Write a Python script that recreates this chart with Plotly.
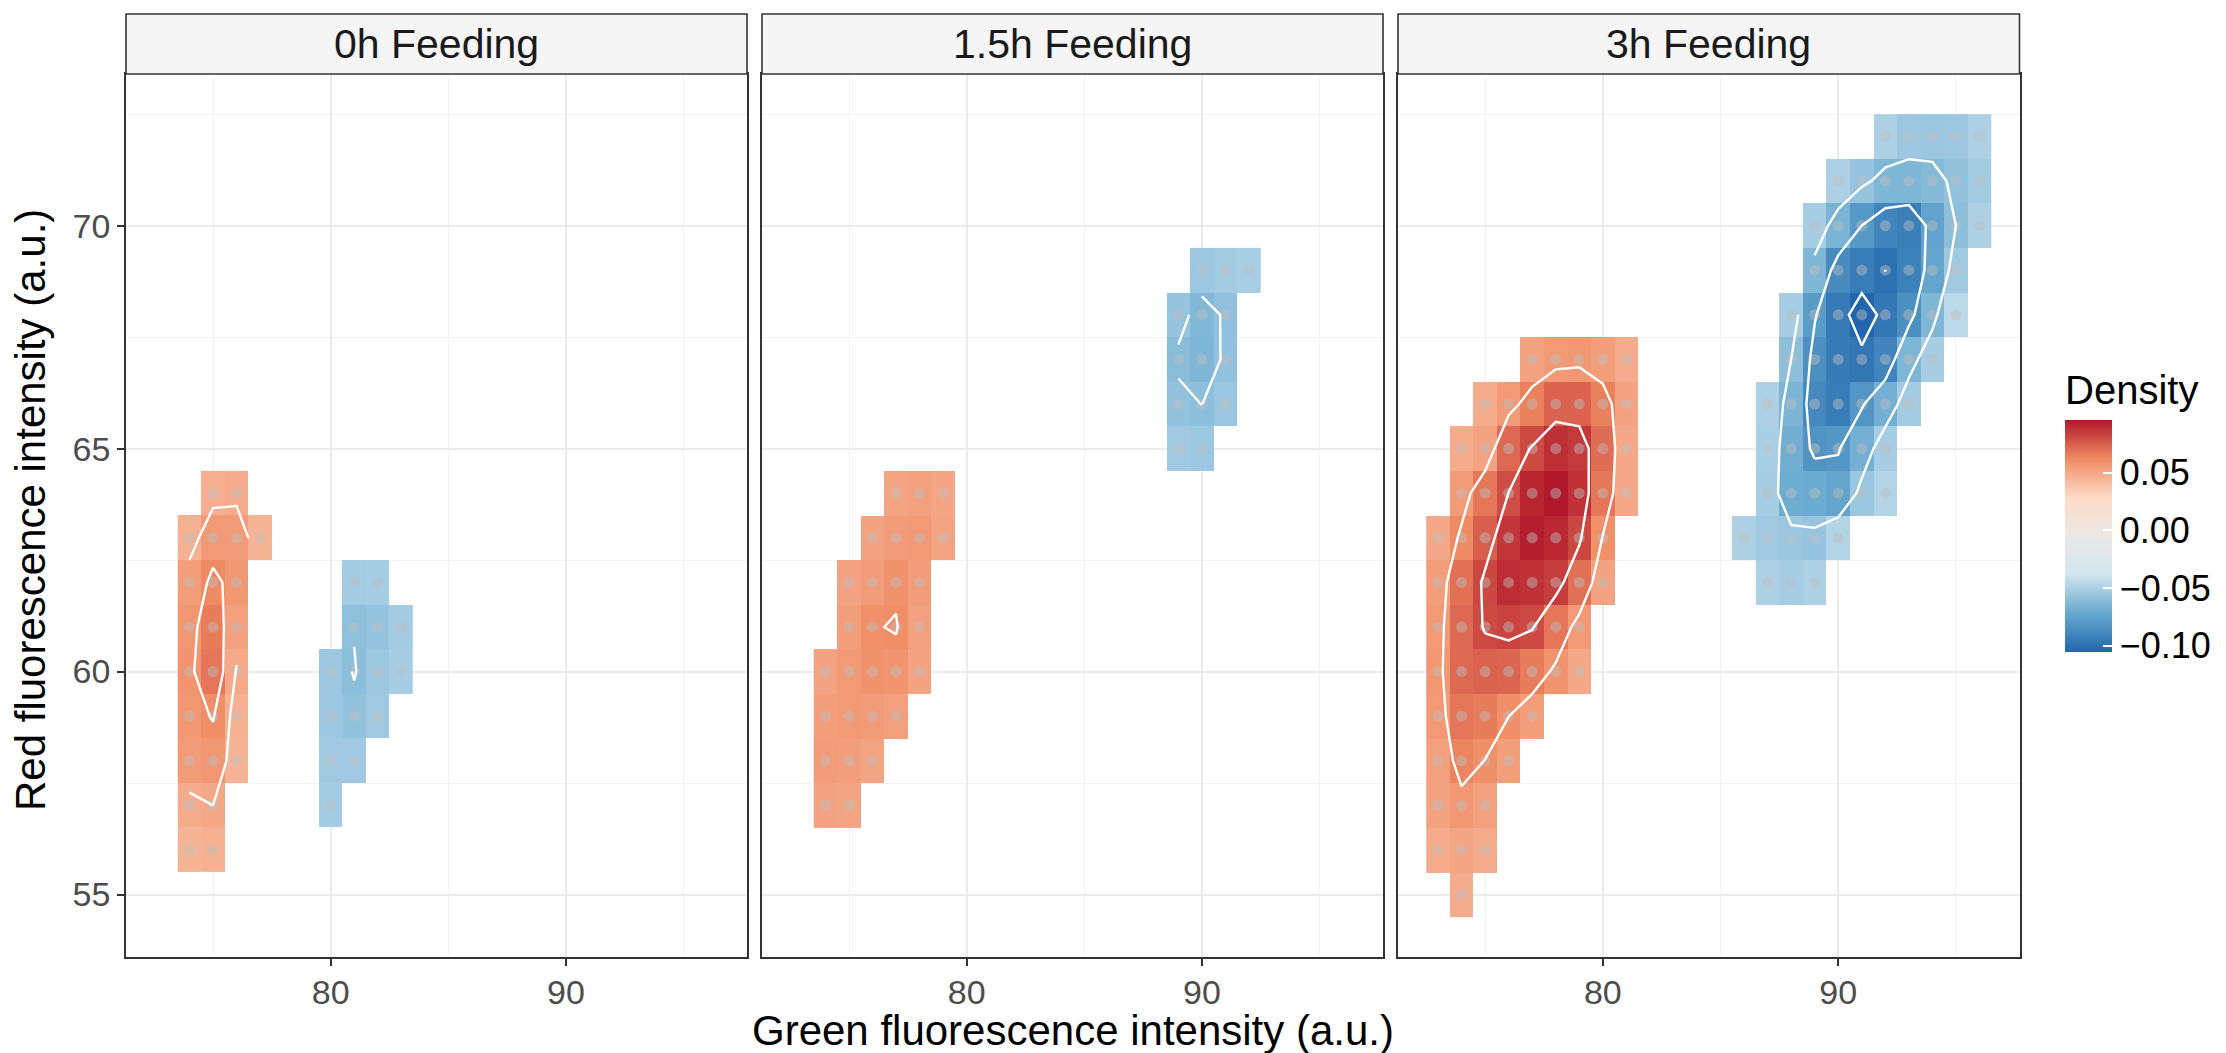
import math
from collections import defaultdict
import plotly.graph_objects as go

# ---------------- data ----------------
panel_titles = ["0h Feeding", "1.5h Feeding", "3h Feeding"]
x_title = "Green fluorescence intensity (a.u.)"
y_title = "Red fluorescence intensity (a.u.)"
legend_title = "Density"
x_ticks = [80, 90]
y_ticks = [55, 60, 65, 70]
legend_ticks = [-0.10, -0.05, 0.00, 0.05]
legend_labels = ["\u22120.10", "\u22120.05", "0.00", "0.05"]
density_limits = [-0.1056, 0.0958]
contour_binwidth = [0.01, 0.01, 0.02]

# each entry: (red intensity y, first green intensity x, densities for x, x+1, ...)
cells_0h = [
    (64, 75, [0.047, 0.048]),
    (63, 74, [0.046, 0.056, 0.055, 0.045]),
    (62, 74, [0.054, 0.062, 0.057]),
    (61, 74, [0.057, 0.066, 0.053]),
    (60, 74, [0.058, 0.068, 0.0495]),
    (59, 74, [0.057, 0.0605, 0.046]),
    (58, 74, [0.055, 0.0567, 0.045]),
    (57, 74, [0.048, 0.050]),
    (56, 74, [0.045, 0.046]),
    (62, 81, [-0.053, -0.052]),
    (61, 81, [-0.0596, -0.057, -0.053]),
    (60, 80, [-0.055, -0.0605, -0.055, -0.052]),
    (59, 80, [-0.055, -0.058, -0.054]),
    (58, 80, [-0.054, -0.054]),
    (57, 80, [-0.053]),
]
cells_1_5h = [
    (64, 77, [0.0515, 0.053, 0.051]),
    (63, 76, [0.052, 0.055, 0.056, 0.0515]),
    (62, 75, [0.052, 0.055, 0.0588, 0.055]),
    (61, 75, [0.054, 0.0595, 0.0605, 0.053]),
    (60, 74, [0.052, 0.056, 0.059, 0.0575, 0.052]),
    (59, 74, [0.054, 0.056, 0.055, 0.053]),
    (58, 74, [0.055, 0.054, 0.0515]),
    (57, 74, [0.052, 0.0515]),
    (69, 90, [-0.055, -0.0535, -0.0515]),
    (68, 89, [-0.057, -0.0635, -0.059]),
    (67, 89, [-0.0615, -0.0645, -0.0588]),
    (66, 89, [-0.058, -0.0601, -0.056]),
    (65, 89, [-0.054, -0.0555]),
]
cells_3h = [
    (67, 77, [0.052, 0.056, 0.057, 0.054, 0.048]),
    (66, 75, [0.048, 0.056, 0.065, 0.074, 0.074, 0.065, 0.052]),
    (65, 74, [0.048, 0.052, 0.072, 0.081, 0.089, 0.086, 0.071, 0.050]),
    (64, 74, [0.055, 0.068, 0.0802, 0.092, 0.0958, 0.088, 0.068, 0.050]),
    (63, 73, [0.050, 0.062, 0.075, 0.087, 0.094, 0.091, 0.082, 0.0595]),
    (62, 73, [0.054, 0.070, 0.082, 0.090, 0.088, 0.085, 0.070, 0.052]),
    (61, 73, [0.056, 0.072, 0.081, 0.083, 0.081, 0.068, 0.056]),
    (60, 73, [0.057, 0.072, 0.074, 0.073, 0.066, 0.058, 0.050]),
    (59, 73, [0.056, 0.068, 0.066, 0.0601, 0.054]),
    (58, 73, [0.053, 0.064, 0.0598, 0.054]),
    (57, 73, [0.052, 0.057, 0.053]),
    (56, 73, [0.048, 0.051, 0.049]),
    (55, 74, [0.048]),
    (72, 92, [-0.050, -0.055, -0.056, -0.055, -0.050]),
    (71, 90, [-0.050, -0.057, -0.0643, -0.0648, -0.063, -0.058, -0.053]),
    (70, 89, [-0.052, -0.066, -0.080, -0.090, -0.093, -0.075, -0.060, -0.050]),
    (69, 89, [-0.064, -0.087, -0.094, -0.1001, -0.092, -0.074, -0.054]),
    (68, 88, [-0.052, -0.0787, -0.0954, -0.1056, -0.097, -0.085, -0.064, -0.045]),
    (67, 88, [-0.060, -0.085, -0.095, -0.0975, -0.090, -0.065, -0.052]),
    (66, 87, [-0.050, -0.0652, -0.088, -0.094, -0.0815, -0.068, -0.053]),
    (65, 87, [-0.051, -0.069, -0.0828, -0.081, -0.068, -0.052]),
    (64, 87, [-0.052, -0.070, -0.0705, -0.074, -0.056, -0.048]),
    (63, 86, [-0.050, -0.054, -0.056, -0.057, -0.048]),
    (62, 87, [-0.050, -0.052, -0.050]),
]
# grid cells that carry the contour lines but have no tile drawn
contour_only_0h = [(64, 74, [0.042]), (64, 77, [0.042]), (57, 76, [0.043])]
contour_only_1_5h = []
contour_only_3h = [
    (67, 76, [0.045]), (64, 73, [0.045]), (63, 81, [0.045]), (61, 80, [0.045]),
    (59, 78, [0.045]), (58, 77, [0.045]),
    (71, 89, [-0.045]), (72, 91, [-0.045]), (67, 95, [-0.045]), (66, 94, [-0.045]),
    (65, 93, [-0.045]), (63, 91, [-0.045]), (67, 87, [-0.045]),
]

panel_cells = [cells_0h, cells_1_5h, cells_3h]
panel_extra = [contour_only_0h, contour_only_1_5h, contour_only_3h]

# ---------------- styling / geometry ----------------
W, H = 2226, 1053
FONT = "Liberation Sans, Arial, Helvetica, sans-serif"
panel_px = [(126, 747), (762, 1383), (1398, 2019.5)]
plot_top, plot_bottom = 74, 957
strip_top = 14
x_range = [71.3, 97.7]
y_range = [53.6, 73.4]
palette = ["#2166ac", "#67a9cf", "#d1e5f0", "#ebe9e7", "#fddbc7", "#ef8a62", "#b2182b"]
colorscale = [[i / (len(palette) - 1), c] for i, c in enumerate(palette)]


def to_points(entries):
    pts = {}
    for y, x0, vals in entries:
        for k, v in enumerate(vals):
            pts[(x0 + k, y)] = v
    return pts


def marching_squares(xs, ys, Z, level):
    nx, ny = len(xs), len(ys)
    cache = {}

    def edge_point(key):
        if key in cache:
            return cache[key]
        kind, i, j = key
        if kind == "h":
            v1, v2 = Z[j][i], Z[j][i + 1]
            t = 0.0 if v2 == v1 else (level - v1) / (v2 - v1)
            p = (xs[i] + t * (xs[i + 1] - xs[i]), ys[j])
        else:
            v1, v2 = Z[j][i], Z[j + 1][i]
            t = 0.0 if v2 == v1 else (level - v1) / (v2 - v1)
            p = (xs[i], ys[j] + t * (ys[j + 1] - ys[j]))
        cache[key] = p
        return p

    segs = []
    for j in range(ny - 1):
        for i in range(nx - 1):
            a, b, c, d = Z[j][i], Z[j][i + 1], Z[j + 1][i + 1], Z[j + 1][i]
            if any(math.isnan(v) for v in (a, b, c, d)):
                continue
            A, B, C, D = a >= level, b >= level, c >= level, d >= level
            bottom, top = ("h", i, j), ("h", i, j + 1)
            left, right = ("v", i, j), ("v", i + 1, j)
            crossed = []
            if A != B:
                crossed.append(bottom)
            if B != C:
                crossed.append(right)
            if C != D:
                crossed.append(top)
            if D != A:
                crossed.append(left)
            if len(crossed) == 2:
                segs.append((crossed[0], crossed[1]))
            elif len(crossed) == 4:
                m = (a + b + c + d) / 4 >= level
                if m == A:
                    segs += [(bottom, right), (top, left)]
                else:
                    segs += [(left, bottom), (right, top)]

    adj = defaultdict(list)
    for k, (e1, e2) in enumerate(segs):
        adj[e1].append(k)
        adj[e2].append(k)
    used = [False] * len(segs)
    paths = []
    for k in range(len(segs)):
        if used[k]:
            continue
        used[k] = True
        path = [segs[k][0], segs[k][1]]
        for forward in (True, False):
            while True:
                end = path[-1] if forward else path[0]
                nxt = [s for s in adj[end] if not used[s]]
                if not nxt:
                    break
                s = nxt[0]
                used[s] = True
                f1, f2 = segs[s]
                other = f2 if f1 == end else f1
                if forward:
                    path.append(other)
                else:
                    path.insert(0, other)
        paths.append([edge_point(e) for e in path])
    return paths


fig = go.Figure()

for p in range(3):
    axn = "" if p == 0 else str(p + 1)
    tiles = to_points(panel_cells[p])
    allpts = dict(tiles)
    allpts.update(to_points(panel_extra[p]))
    xs = list(range(min(q[0] for q in allpts), max(q[0] for q in allpts) + 1))
    ys = list(range(min(q[1] for q in allpts), max(q[1] for q in allpts) + 1))
    z_tiles = [[tiles.get((x, y)) for x in xs] for y in ys]
    z_all = [[allpts.get((x, y), math.nan) for x in xs] for y in ys]

    fig.add_trace(go.Heatmap(
        x=xs, y=ys, z=z_tiles, coloraxis="coloraxis", hoverinfo="skip",
        xaxis="x" + axn, yaxis="y" + axn,
    ))

    dx = [q[0] for q in tiles]
    dy = [q[1] for q in tiles]
    fig.add_trace(go.Scatter(
        x=dx, y=dy, mode="markers", hoverinfo="skip", showlegend=False,
        marker=dict(size=11, color="rgba(190,190,190,0.45)", line=dict(width=0)),
        xaxis="x" + axn, yaxis="y" + axn,
    ))

    vals = [v for v in allpts.values()]
    step = contour_binwidth[p]
    k0 = math.ceil(min(vals) / step - 1e-9)
    k1 = math.floor(max(vals) / step + 1e-9)
    lx, ly = [], []
    for k in range(k0, k1 + 1):
        level = round(k * step, 6)
        for path in marching_squares(xs, ys, z_all, level):
            lx += [pt[0] for pt in path] + [None]
            ly += [pt[1] for pt in path] + [None]
    fig.add_trace(go.Scatter(
        x=lx, y=ly, mode="lines", hoverinfo="skip", showlegend=False,
        line=dict(color="white", width=2.4), connectgaps=False,
        xaxis="x" + axn, yaxis="y" + axn,
    ))

layout = dict(
    width=W, height=H,
    margin=dict(l=0, r=0, t=0, b=0),
    paper_bgcolor="white", plot_bgcolor="white",
    font=dict(family=FONT, color="black"),
    showlegend=False,
    coloraxis=dict(
        cmin=density_limits[0], cmax=density_limits[1], colorscale=colorscale,
        colorbar=dict(
            thickness=47, thicknessmode="pixels", len=281, lenmode="pixels",
            x=2065 / W, xanchor="left", xpad=0,
            y=1 - 652 / H, yanchor="bottom", ypad=0,
            outlinewidth=0,
            tickvals=legend_ticks, ticktext=legend_labels,
            ticks="inside", ticklen=9, tickcolor="white", tickwidth=1.5,
            tickfont=dict(size=36, color="black", family=FONT),
            title=dict(text=legend_title, side="top",
                       font=dict(size=40, color="black", family=FONT)),
        ),
    ),
)

ydom = [1 - plot_bottom / H, 1 - plot_top / H]
for p in range(3):
    axn = "" if p == 0 else str(p + 1)
    x0, x1 = panel_px[p]
    layout["xaxis" + axn] = dict(
        domain=[x0 / W, x1 / W], range=x_range, anchor="y" + axn,
        tickvals=x_ticks, ticks="outside", ticklen=7, tickwidth=1.6, tickcolor="#333333",
        tickfont=dict(size=34, color="#4d4d4d", family=FONT), ticklabelstandoff=-3,
        showgrid=True, gridcolor="#ebebeb", gridwidth=2,
        minor=dict(tickvals=[75, 85, 95], showgrid=True, gridcolor="#f2f2f2", gridwidth=1, ticks=""),
        showline=True, mirror=True, linecolor="#333333", linewidth=1.6,
        zeroline=False, fixedrange=True,
    )
    layout["yaxis" + axn] = dict(
        domain=ydom, range=y_range, anchor="x" + axn,
        tickvals=y_ticks, ticks="outside" if p == 0 else "", ticklen=7, tickwidth=1.6,
        tickcolor="#333333", showticklabels=(p == 0),
        tickfont=dict(size=34, color="#4d4d4d", family=FONT),
        showgrid=True, gridcolor="#ebebeb", gridwidth=2,
        minor=dict(tickvals=[57.5, 62.5, 67.5, 72.5], showgrid=True, gridcolor="#f2f2f2",
                   gridwidth=1, ticks=""),
        showline=True, mirror=True, linecolor="#333333", linewidth=1.6,
        zeroline=False, fixedrange=True,
    )

shapes = []
annotations = []
for p in range(3):
    x0, x1 = panel_px[p]
    shapes.append(dict(
        type="rect", xref="paper", yref="paper",
        x0=x0 / W, x1=x1 / W, y0=1 - plot_top / H, y1=1 - strip_top / H,
        fillcolor="#f5f5f5", line=dict(color="#333333", width=1.6), layer="above",
    ))
    annotations.append(dict(
        text=panel_titles[p], xref="paper", yref="paper",
        x=(x0 + x1) / 2 / W, y=1 - (strip_top + plot_top) / 2 / H,
        xanchor="center", yanchor="middle", showarrow=False,
        font=dict(size=41, color="#1a1a1a", family=FONT),
    ))

annotations.append(dict(
    text=x_title, xref="paper", yref="paper",
    x=(panel_px[0][0] + panel_px[2][1]) / 2 / W, y=1 - 1030 / H,
    xanchor="center", yanchor="middle", showarrow=False,
    font=dict(size=42, color="black", family=FONT),
))
annotations.append(dict(
    text=y_title, xref="paper", yref="paper",
    x=30 / W, y=1 - 510 / H, textangle=-90,
    xanchor="center", yanchor="middle", showarrow=False,
    font=dict(size=42, color="black", family=FONT),
))

layout["shapes"] = shapes
layout["annotations"] = annotations
fig.update_layout(**layout)

fig.write_html("out.html")
